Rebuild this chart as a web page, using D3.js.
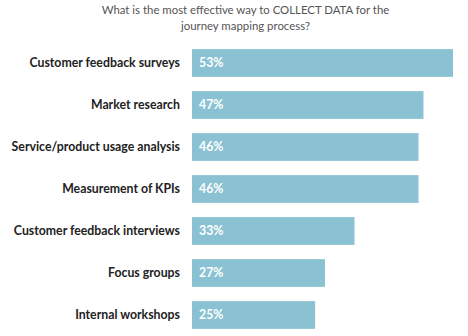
<!DOCTYPE html>
<html><head><meta charset="utf-8">
<script src="https://cdn.jsdelivr.net/npm/d3@7"></script>
<style>body{margin:0;background:#fff}svg{display:block}</style>
</head><body>
<script>
const categories = ["Customer feedback surveys","Market research","Service/product usage analysis","Measurement of KPIs","Customer feedback interviews","Focus groups","Internal workshops"];
const values = [53,47,46,46,33,27,25];
const titleLines = ["What is the most effective way to COLLECT DATA for the","journey mapping process?"];

const W=468,H=336;
const svg=d3.select("body").append("svg").attr("width",W).attr("height",H);
const x=d3.scaleLinear().domain([0,53]).range([192,453]);
const y=d3.scaleBand().domain(categories).range([42,336]).paddingInner(0.34).paddingOuter(0.17);

svg.selectAll("text.title").data(titleLines).enter().append("text")
 .attr("x",245.5).attr("y",(d,i)=>14+i*15.5).attr("text-anchor","middle")
 .attr("font-family","Lato, sans-serif").attr("font-size",11.4).attr("fill","#555")
 .text(d=>d);

svg.selectAll("rect.bar").data(values).enter().append("rect")
 .attr("x",x(0)).attr("y",(d,i)=>y(categories[i])).attr("width",d=>x(d)-x(0)).attr("height",y.bandwidth())
 .attr("fill","#8ac2d3");

svg.selectAll("text.cat").data(categories).enter().append("text")
 .attr("x",180).attr("y",d=>y(d)+y.bandwidth()/2).attr("dy","0.36em").attr("text-anchor","end")
 .attr("font-family","Lato, sans-serif").attr("font-weight","bold").attr("font-size",12.3).attr("fill","#222")
 .text(d=>d);

svg.selectAll("text.val").data(values).enter().append("text")
 .attr("x",199).attr("y",(d,i)=>y(categories[i])+y.bandwidth()/2).attr("dy","0.36em")
 .attr("font-family","Lato, sans-serif").attr("font-weight","bold").attr("font-size",12.3).attr("fill","#fff")
 .text(d=>d+"%");
</script>
</body></html>
